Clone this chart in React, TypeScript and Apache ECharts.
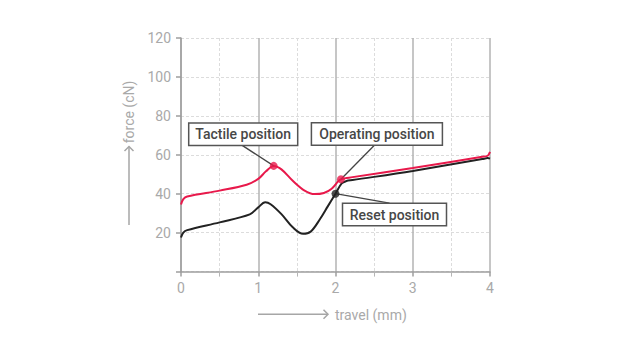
import React, { useEffect, useRef } from 'react';
import * as echarts from 'echarts';

// travel (mm), force (cN)
const operatingCurve: [number, number][] = [
  [0, 34.5], [0.03, 37.2], [0.08, 38.6], [0.5, 41.6], [0.85, 44.6], [1.0, 47.6],
  [1.1, 51.5], [1.2, 54.3], [1.3, 52.5], [1.45, 46.5], [1.6, 41.6], [1.73, 39.8],
  [1.85, 40.4], [1.95, 42.6], [2.05, 46.9], [2.12, 47.9], [2.2, 48.4], [3.0, 53.2], [3.9, 59.0], [3.97, 59.5], [4.0, 61.5],
];
const resetCurve: [number, number][] = [
  [0, 17.5], [0.03, 20.0], [0.08, 21.3], [0.5, 25.3], [0.89, 29.4], [1.0, 33.0],
  [1.09, 35.6], [1.16, 34.6], [1.3, 29.5], [1.45, 22.6], [1.58, 19.4], [1.68, 20.6],
  [1.8, 27.0], [1.9, 33.5], [2.0, 40.0], [2.08, 45.3], [2.14, 46.5], [2.22, 47.0], [3.0, 51.7], [3.9, 57.8], [3.97, 58.3], [4.0, 58.0],
];
const tactilePoint: [number, number] = [1.2, 54.3];
const operatingPoint: [number, number] = [2.07, 47.4];
const resetPoint: [number, number] = [2.0, 40.0];
const annotationLabels = ['Tactile position', 'Operating position', 'Reset position'];
const xTicks = { min: 0, max: 4, interval: 1 };
const yTicks = { min: 0, max: 120, interval: 20 };
const axisNames = { x: 'travel (mm)', y: 'force (cN)' };

const RED = '#e8194b';
const BLACK = '#222222';
const GRAY_TEXT = '#a9a9a9';
const FONT = 'Roboto, "Noto Sans", sans-serif';

export default function App() {
  const ref = useRef<HTMLDivElement>(null);
  useEffect(() => {
    if (!ref.current) return;
    const chart = echarts.init(ref.current, null, { renderer: 'svg' });
    chart.setOption({
      animation: false,
      grid: { left: 181, right: 140, top: 38, bottom: 83.4 },
      xAxis: {
        type: 'value',
        min: xTicks.min,
        max: xTicks.max,
        interval: xTicks.interval,
        axisLine: { lineStyle: { color: '#9e9e9e', width: 1.5 } },
        axisTick: { show: true, length: 5, lineStyle: { color: '#9e9e9e', width: 1.5 } },
        minorTick: { show: true, splitNumber: 2, length: 5, lineStyle: { color: '#b5b5b5', width: 1 } },
        splitLine: { show: true, lineStyle: { color: '#b3b3b3', width: 1.5 } },
        minorSplitLine: { show: true, lineStyle: { color: '#dcdcdc', width: 1, type: [3, 2] } },
        axisLabel: { color: GRAY_TEXT, fontSize: 14, fontFamily: FONT, margin: 9 },
      },
      yAxis: {
        type: 'value',
        min: yTicks.min,
        max: yTicks.max,
        interval: yTicks.interval,
        axisLine: { show: true, lineStyle: { color: '#9e9e9e', width: 1.5 } },
        axisTick: { show: true, length: 5, lineStyle: { color: '#9e9e9e', width: 1.5 } },
        splitLine: { show: true, lineStyle: { color: '#dcdcdc', width: 1, type: [3, 2] } },
        axisLabel: {
          color: GRAY_TEXT, fontSize: 14, fontFamily: FONT, margin: 10,
          formatter: (v: number) => (v === 0 ? '' : String(v)),
        },
      },
      series: [
        {
          type: 'line', data: resetCurve, smooth: 0.35, showSymbol: false, z: 3,
          lineStyle: { color: BLACK, width: 2 },
        },
        {
          type: 'line', data: operatingCurve, smooth: 0.35, showSymbol: false, z: 4,
          lineStyle: { color: RED, width: 2 },
        },
        {
          type: 'scatter', data: [tactilePoint, operatingPoint], symbolSize: 8, z: 6,
          itemStyle: { color: RED },
        },
        {
          type: 'scatter', data: [resetPoint], symbolSize: 8, z: 6,
          itemStyle: { color: BLACK },
        },
      ],
    });

    const px = (p: [number, number]) => chart.convertToPixel({ gridIndex: 0 }, p) as number[];
    const tp = px(tactilePoint);
    const op = px(operatingPoint);
    const rp = px(resetPoint);

    const box = (cx: number, top: number, w: number, text: string) => [
      {
        type: 'rect', z: 10,
        shape: { x: cx - w / 2, y: top, width: w, height: 22.5 },
        style: { fill: '#fff', stroke: '#555', lineWidth: 1.5 },
      },
      {
        type: 'text', z: 11,
        style: {
          text, x: cx, y: top + 11.5, align: 'center', verticalAlign: 'middle',
          fill: '#474747', font: `500 14px ${FONT}`,
        },
      },
    ];

    const tBox = { cx: tp[0] - 30.5, top: tp[1] - 43 };
    const oBox = { cx: op[0] + 36, top: op[1] - 56.5 };
    const rBox = { cx: rp[0] + 59, top: rp[1] + 9.5 };

    const leader = (x1: number, y1: number, x2: number, y2: number) => ({
      type: 'line', z: 5,
      shape: { x1, y1, x2, y2 },
      style: { stroke: '#444', lineWidth: 1.3 },
    });

    const gray = '#a6a6a6';
    chart.setOption({
      graphic: [
        leader(tBox.cx - 1, tBox.top + 22.5, tp[0], tp[1]),
        leader(oBox.cx - 2.5, oBox.top + 22.5, op[0], op[1]),
        leader(rp[0], rp[1], rBox.cx - 5, rBox.top),
        ...box(tBox.cx, tBox.top, 109, annotationLabels[0]),
        ...box(oBox.cx, oBox.top, 131, annotationLabels[1]),
        ...box(rBox.cx, rBox.top, 104, annotationLabels[2]),
        // y axis name arrow
        { type: 'line', shape: { x1: 129, y1: 225, x2: 129, y2: 146.5 }, style: { stroke: gray, lineWidth: 1.5 } },
        { type: 'polyline', shape: { points: [[124.5, 151], [129, 146.5], [133.5, 151]] }, style: { stroke: gray, lineWidth: 1.5, fill: null } },
        {
          type: 'text', x: 129, y: 112, rotation: Math.PI / 2,
          style: { text: axisNames.y, align: 'center', verticalAlign: 'middle', fill: GRAY_TEXT, font: `14px ${FONT}` },
        },
        // x axis name arrow
        { type: 'line', shape: { x1: 258, y1: 314.3, x2: 328, y2: 314.3 }, style: { stroke: gray, lineWidth: 1.5 } },
        { type: 'polyline', shape: { points: [[323.5, 309.8], [328, 314.3], [323.5, 318.8]] }, style: { stroke: gray, lineWidth: 1.5, fill: null } },
        {
          type: 'text', x: 335, y: 314.5,
          style: { text: axisNames.x, align: 'left', verticalAlign: 'middle', fill: GRAY_TEXT, font: `14px ${FONT}` },
        },
      ],
    });

    return () => chart.dispose();
  }, []);
  return <div ref={ref} style={{ position: 'fixed', left: 0, top: 0, width: 630, height: 355, background: '#fff' }} />;
}
